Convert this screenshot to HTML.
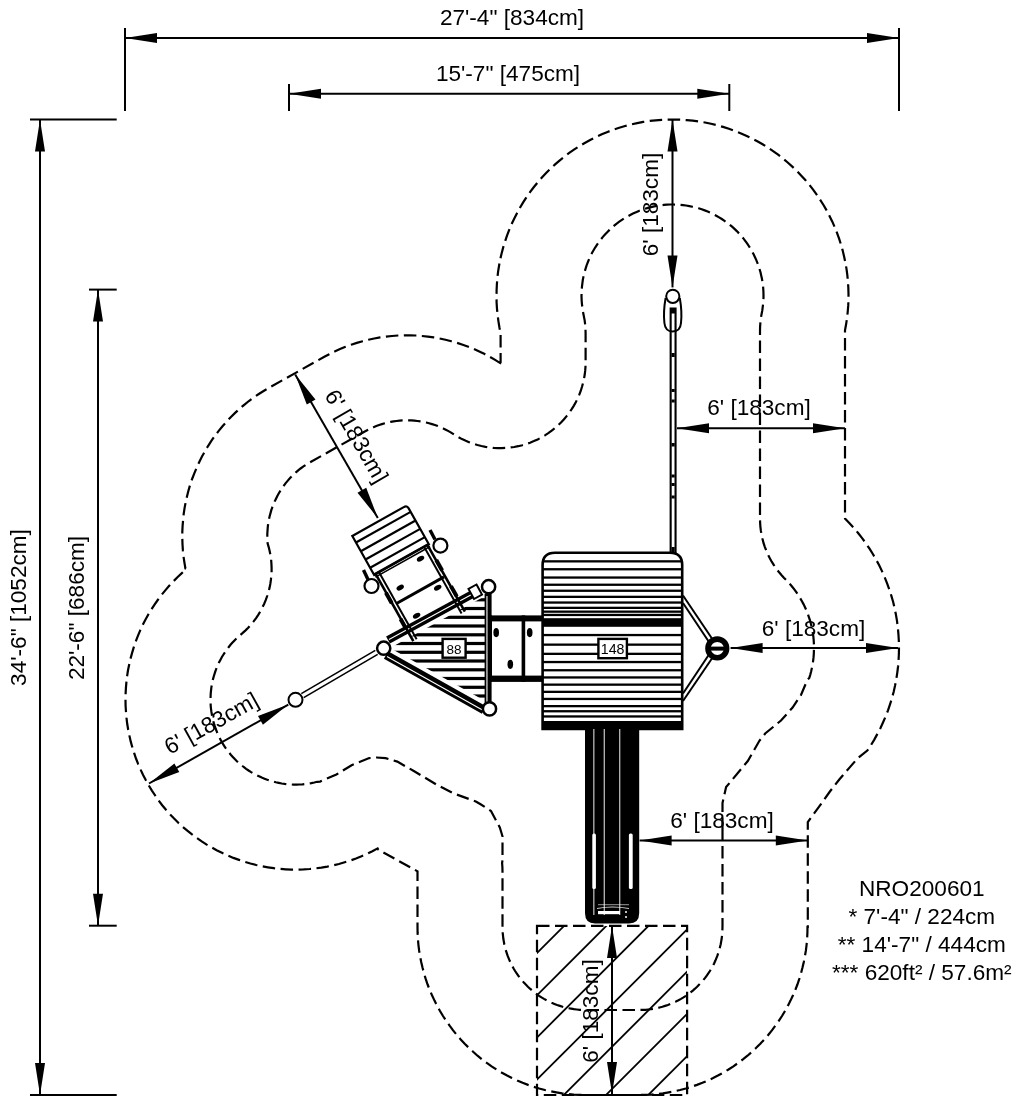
<!DOCTYPE html><html><head><meta charset="utf-8"><style>html,body{margin:0;padding:0;background:#fff;width:1024px;height:1105px;overflow:hidden}svg{filter:grayscale(1)}</style></head><body><svg xmlns="http://www.w3.org/2000/svg" width="1024" height="1105" viewBox="0 0 1024 1105" style="position:absolute;left:0;top:0">
<rect width="1024" height="1105" fill="#fff"/>
<g fill="#000" font-family="Liberation Sans, sans-serif">
<path d="M500.6,362.5 L500.2,363.1 L495.1,359.9 L490,356.9 L484.7,354.1 L479.3,351.5 L473.9,349 L468.3,346.7 L462.7,344.7 L457,342.8 L451.3,341.2 L445.5,339.7 L439.6,338.5 L433.7,337.4 L427.8,336.6 L421.9,336 L415.9,335.5 L409.9,335.3 L403.9,335.3 L398,335.5 L392,336 L386,336.6 L380.1,337.4 L374.2,338.5 L368.4,339.7 L362.6,341.2 L356.8,342.9 L351.2,344.7 L345.5,346.8 L340,349.1 L334.6,351.5 L329.2,354.2 L323.9,357 L269.2,387.7 L264,390.8 L258.8,394 L253.8,397.4 L248.9,401 L244.2,404.8 L239.5,408.8 L235.1,412.9 L230.7,417.2 L226.6,421.6 L222.5,426.2 L218.7,430.9 L215,435.7 L211.5,440.7 L208.2,445.8 L205.1,451 L202.1,456.3 L199.4,461.7 L196.8,467.3 L194.5,472.9 L192.3,478.5 L190.3,484.3 L188.6,490.1 L187.1,496 L185.7,502 L184.6,507.9 L183.7,513.9 L183.1,520 L182.6,526 L182.3,532.1 L182.3,538.2 L182.5,544.3 L182.9,550.4 L183.5,556.4 L184.4,562.4 L185.4,568.4 L186.6,569 L182.1,572.9 L177.7,577 L173.5,581.2 L169.4,585.6 L165.5,590.1 L161.7,594.7 L158.1,599.5 L154.7,604.4 L151.4,609.4 L148.3,614.5 L145.4,619.7 L142.7,625 L140.2,630.4 L137.9,635.9 L135.7,641.5 L133.8,647.2 L132.1,652.9 L130.5,658.6 L129.2,664.5 L128,670.3 L127.1,676.2 L126.4,682.1 L125.9,688.1 L125.6,694.1 L125.5,700 L125.6,706 L126,712 L126.5,717.9 L127.2,723.8 L128.2,729.7 L129.4,735.6 L130.7,741.4 L132.3,747.2 L134.1,752.9 L136,758.5 L138.2,764.1 L140.6,769.6 L143.1,774.9 L145.9,780.3 L148.8,785.5 L151.9,790.6 L155.2,795.5 L158.6,800.4 L162.2,805.2 L166,809.8 L170,814.3 L174.1,818.6 L178.3,822.8 L182.7,826.8 L187.3,830.7 L192,834.4 L196.8,838 L201.7,841.4 L206.7,844.6 L211.9,847.6 L217.1,850.4 L222.5,853.1 L227.9,855.6 L233.4,857.9 L239,859.9 L244.7,861.8 L250.4,863.5 L256.2,865 L262,866.3 L267.9,867.3 L273.8,868.2 L279.7,868.9 L285.7,869.3 L291.7,869.6 L297.6,869.6 L303.6,869.4 L309.6,869 L315.5,868.4 L321.4,867.6 L327.3,866.6 L333.1,865.4 L338.9,864 L344.7,862.3 L350.4,860.5 L356,858.5 L361.5,856.3 L367,853.8 L372.4,851.2 L377.6,848.4 L378.4,849.8 L417.5,871.3 L417.5,927 L417.6,932.9 L417.9,938.7 L418.4,944.6 L419.1,950.4 L420.1,956.2 L421.2,961.9 L422.5,967.6 L424,973.3 L425.7,978.9 L427.6,984.5 L429.7,989.9 L432,995.3 L434.5,1000.6 L437.2,1005.9 L440,1011 L443,1016 L446.2,1020.9 L449.6,1025.7 L453.1,1030.4 L456.8,1035 L460.7,1039.4 L464.7,1043.7 L468.8,1047.8 L473.1,1051.8 L477.5,1055.7 L482.1,1059.4 L486.8,1062.9 L491.6,1066.3 L496.5,1069.5 L501.5,1072.5 L506.6,1075.3 L511.9,1078 L517.2,1080.5 L522.6,1082.8 L528,1084.9 L533.6,1086.8 L539.2,1088.5 L544.9,1090 L550.6,1091.3 L556.3,1092.4 L562.1,1093.4 L567.9,1094.1 L573.8,1094.6 L579.6,1094.9 L585.5,1095 L639.5,1095 L645.4,1094.9 L651.2,1094.6 L657.1,1094.1 L662.9,1093.4 L668.7,1092.4 L674.4,1091.3 L680.1,1090 L685.8,1088.5 L691.4,1086.8 L697,1084.9 L702.4,1082.8 L707.8,1080.5 L713.1,1078 L718.4,1075.3 L723.5,1072.5 L728.5,1069.5 L733.4,1066.3 L738.2,1062.9 L742.9,1059.4 L747.5,1055.7 L751.9,1051.8 L756.2,1047.8 L760.3,1043.7 L764.3,1039.4 L768.2,1035 L771.9,1030.4 L775.4,1025.7 L778.8,1020.9 L782,1016 L785,1011 L787.8,1005.9 L790.5,1000.6 L793,995.3 L795.3,989.9 L797.4,984.5 L799.3,978.9 L801,973.3 L802.5,967.6 L803.8,961.9 L804.9,956.2 L805.9,950.4 L806.6,944.6 L807.1,938.7 L807.4,932.9 L807.5,927 L807.8,927 L807.8,822 L819.1,806.7 L829.9,791.5 L839.5,779.3 L849.5,767.6 L857.5,758.5 L867.3,750.6 L870.9,745.2 L874.3,739.6 L877.4,733.9 L880.4,728.2 L883.1,722.3 L885.7,716.3 L888,710.3 L890.1,704.2 L892,698 L893.7,691.7 L895.1,685.4 L896.3,679 L897.3,672.6 L898.1,666.2 L898.6,659.7 L898.9,653.2 L899,646.7 L898.8,640.2 L898.4,633.8 L897.8,627.3 L897,620.9 L895.9,614.5 L894.6,608.1 L893.1,601.8 L891.3,595.6 L889.3,589.4 L887.1,583.3 L884.7,577.3 L882.1,571.4 L879.3,565.5 L876.2,559.8 L873,554.2 L869.5,548.7 L865.9,543.3 L862.1,538.1 L858.1,533 L853.9,528 L849.5,523.2 L845,518.6 L845,518.6 L845,330.4 L846.1,324.3 L847,318.2 L847.7,312 L848.2,305.9 L848.5,299.7 L848.5,293.5 L848.3,287.3 L847.9,281.1 L847.3,274.9 L846.5,268.8 L845.4,262.7 L844.1,256.6 L842.7,250.6 L841,244.6 L839.1,238.7 L837,232.9 L834.7,227.1 L832.2,221.4 L829.5,215.9 L826.6,210.4 L823.5,205 L820.2,199.8 L816.7,194.6 L813.1,189.6 L809.3,184.7 L805.3,180 L801.1,175.4 L796.8,170.9 L792.3,166.6 L787.7,162.5 L783,158.5 L778.1,154.7 L773.1,151.1 L767.9,147.6 L762.6,144.3 L757.3,141.3 L751.8,138.4 L746.2,135.7 L740.5,133.2 L734.8,130.9 L728.9,128.8 L723,126.9 L717.1,125.2 L711,123.8 L705,122.5 L698.8,121.5 L692.7,120.7 L686.5,120.1 L680.3,119.7 L674.1,119.5 L667.9,119.6 L661.8,119.8 L655.6,120.3 L649.4,121 L643.3,121.9 L637.2,123.1 L631.1,124.4 L625.1,126 L619.2,127.8 L613.3,129.7 L607.5,131.9 L601.8,134.3 L596.2,136.9 L590.6,139.7 L585.2,142.7 L579.9,145.8 L574.7,149.2 L569.6,152.7 L564.6,156.5 L559.8,160.3 L555.1,164.4 L550.5,168.6 L546.1,173 L541.9,177.5 L537.8,182.2 L533.9,187 L530.2,191.9 L526.6,197 L523.3,202.2 L520.1,207.5 L517.1,212.9 L514.3,218.5 L511.6,224.1 L509.2,229.8 L507,235.6 L505,241.5 L503.2,247.4 L501.6,253.4 L500.2,259.4 L499.1,265.5 L498.1,271.6 L497.4,277.8 L496.9,284 L496.6,290.2 L496.5,296.4 L496.6,302.6 L497,308.8 L497.6,314.9 L498.4,321.1 L499.4,327.2 L500.6,333.3 L500.6,333.3 L500.6,362.5Z" fill="none" stroke="#000" stroke-width="2.2" stroke-dasharray="12.5 5.5"/>
<path d="M722.5,830 L722.5,803 L726.1,787.1 L747.8,761 L759.4,740.8 L765.2,733.5 L781,720.5 L792.6,707.5 L801,695 L807.3,680 L809.3,677.9 L810.3,674.6 L811.2,671.3 L811.9,667.9 L812.6,664.5 L813.1,661.1 L813.5,657.7 L813.8,654.2 L813.9,650.8 L814,647.3 L813.9,643.9 L813.7,640.4 L813.4,637 L812.9,633.6 L812.3,630.1 L811.6,626.8 L810.8,623.4 L809.9,620.1 L808.8,616.8 L807.7,613.5 L806.4,610.3 L805,607.2 L803.5,604.1 L801.8,601 L800.1,598 L798.3,595.1 L796.3,592.2 L794.3,589.4 L792.2,586.7 L789.9,584.1 L787.6,581.5 L784.1,578 L781.4,575 L778.7,571.8 L776.2,568.6 L773.9,565.2 L771.7,561.7 L769.7,558.1 L767.9,554.4 L766.3,550.6 L764.8,546.8 L763.5,542.9 L762.5,538.9 L761.6,534.9 L760.9,530.9 L760.4,526.8 L760.1,522.7 L760,518.6 L760,330.4 L760.1,326.6 L760.4,322.7 L760.8,318.8 L761.4,315 L762.3,310.4 L762.7,307.2 L763.1,304 L763.3,300.9 L763.5,297.7 L763.5,294.4 L763.4,291.2 L763.2,288 L762.9,284.9 L762.4,281.7 L761.9,278.5 L761.2,275.4 L760.5,272.3 L759.6,269.2 L758.6,266.1 L757.5,263.1 L756.3,260.1 L755,257.2 L753.6,254.3 L752.1,251.5 L750.5,248.7 L748.8,246 L747.1,243.3 L745.2,240.8 L743.2,238.2 L741.1,235.8 L739,233.4 L736.8,231.1 L734.5,228.9 L732.1,226.7 L729.6,224.7 L727.1,222.7 L724.5,220.8 L721.8,219 L719.1,217.4 L716.3,215.8 L713.5,214.3 L710.6,212.9 L707.7,211.6 L704.7,210.4 L701.7,209.3 L698.6,208.3 L695.5,207.5 L692.4,206.7 L689.3,206.1 L686.1,205.5 L682.9,205.1 L679.8,204.8 L676.6,204.6 L673.4,204.5 L670.1,204.5 L666.9,204.7 L663.8,204.9 L660.6,205.3 L657.4,205.8 L654.2,206.4 L651.1,207.1 L648,207.9 L644.9,208.8 L641.9,209.8 L638.9,210.9 L636,212.2 L633,213.5 L630.2,215 L627.4,216.5 L624.6,218.1 L621.9,219.9 L619.3,221.7 L616.7,223.6 L614.2,225.6 L611.8,227.7 L609.5,229.9 L607.2,232.2 L605,234.5 L602.9,236.9 L600.9,239.4 L598.9,242 L597.1,244.6 L595.3,247.3 L593.7,250 L592.1,252.8 L590.7,255.7 L589.3,258.6 L588.1,261.5 L586.9,264.5 L585.9,267.6 L585,270.6 L584.2,273.7 L583.4,276.9 L582.8,280 L582.4,283.2 L582,286.3 L581.7,289.5 L581.6,292.7 L581.5,295.9 L581.6,299.2 L581.8,302.4 L582.1,305.5 L582.5,308.7 L583,311.9 L583.9,316.5 L584.7,320.6 L585.2,324.8 L585.5,329 L585.6,333.3 L585.6,362.5 L585.5,366.6 L585.2,370.7 L584.7,374.8 L584,378.8 L583.1,382.8 L582,386.8 L580.8,390.7 L579.3,394.6 L577.7,398.3 L575.9,402 L573.9,405.6 L571.7,409.1 L571.3,409.7 L568.9,413.1 L566.4,416.4 L563.8,419.5 L561,422.6 L558,425.4 L554.9,428.2 L551.7,430.7 L548.3,433.2 L544.9,435.4 L541.3,437.5 L537.7,439.4 L533.9,441.1 L530.1,442.7 L526.2,444 L522.3,445.2 L518.2,446.2 L514.2,447 L510.1,447.5 L506,447.9 L501.9,448.1 L497.8,448.1 L493.6,447.9 L489.5,447.4 L485.5,446.8 L481.4,446 L477.4,445 L473.5,443.8 L469.6,442.4 L465.8,440.8 L462,439.1 L458.4,437.1 L454.9,435 L451.1,432.6 L448.5,431.1 L445.8,429.7 L443.2,428.4 L440.4,427.2 L437.7,426 L434.9,425 L432,424.1 L429.1,423.2 L426.2,422.5 L423.3,421.9 L420.4,421.4 L417.4,421 L414.4,420.6 L411.4,420.4 L408.5,420.3 L405.5,420.3 L402.5,420.4 L399.5,420.6 L396.5,421 L393.6,421.4 L390.6,421.9 L387.7,422.5 L384.8,423.3 L381.9,424.1 L379.1,425 L376.3,426.1 L373.5,427.2 L370.8,428.4 L368.1,429.7 L364.8,431.5 L311.5,461.5 L308.1,463.4 L305.6,465 L303.1,466.7 L300.6,468.5 L298.2,470.4 L295.9,472.4 L293.7,474.5 L291.5,476.6 L289.4,478.8 L287.4,481.1 L285.5,483.4 L283.7,485.9 L281.9,488.4 L280.3,490.9 L278.7,493.5 L277.2,496.2 L275.9,498.9 L274.6,501.6 L273.4,504.4 L272.3,507.3 L271.3,510.2 L270.5,513.1 L269.7,516 L269,519 L268.5,522 L268,525 L267.7,528 L267.5,531 L267.3,534.1 L267.3,537.1 L267.4,540.1 L267.6,543.2 L267.6,543.3 L268.7,547.1 L269.7,551.2 L270.5,555.2 L271.1,559.3 L271.4,563.4 L271.6,567.6 L271.6,571.7 L271.3,575.8 L270.9,579.9 L270.3,584 L269.5,588.1 L268.4,592.1 L267.2,596 L265.8,599.9 L264.2,603.7 L262.4,607.5 L260.5,611.1 L258.4,614.6 L256.1,618.1 L253.6,621.4 L251,624.6 L248.2,627.7 L245.3,630.6 L242.2,633.4 L238.8,636.3 L236.6,638.3 L234.5,640.4 L232.5,642.6 L230.5,644.8 L228.6,647.2 L226.8,649.5 L225.1,652 L223.5,654.5 L221.9,657 L220.5,659.7 L219.1,662.3 L217.9,665 L216.7,667.8 L215.6,670.6 L214.7,673.4 L213.8,676.2 L213,679.1 L212.3,682 L211.8,685 L211.3,687.9 L211,690.9 L210.7,693.8 L210.6,696.8 L210.5,699.8 L210.6,702.8 L210.7,705.8 L211,708.8 L211.4,711.7 L211.9,714.7 L212.4,717.6 L213.1,720.5 L213.9,723.4 L214.8,726.2 L215.8,729 L216.9,731.8 L218,734.6 L219.3,737.3 L220.7,739.9 L222.1,742.5 L223.7,745.1 L225.3,747.6 L227.1,750 L228.9,752.4 L230.8,754.7 L232.8,756.9 L234.8,759.1 L236.9,761.2 L239.1,763.2 L241.4,765.1 L243.7,767 L246.1,768.8 L248.6,770.5 L251.1,772.1 L253.7,773.6 L256.3,775 L259,776.3 L261.7,777.6 L264.5,778.7 L267.3,779.8 L270.1,780.7 L273,781.5 L275.8,782.3 L278.8,782.9 L281.7,783.5 L284.7,783.9 L287.6,784.2 L290.6,784.4 L293.6,784.6 L296.6,784.6 L299.5,784.5 L302.5,784.3 L305.5,784 L308.5,783.6 L311.4,783.1 L314.3,782.5 L317.2,781.8 L320,781.6 L336.4,774.5 L351.6,765.2 L369.2,758.1 L376.3,757.5 L385.6,758.1 L397.3,761.6 L413.8,771 L437.2,785 L453,793.2 L475.8,801.5 L480.2,804 L491,811 L499.8,827.5 L502.5,836.3 L502.5,860 L502.1,863.1 L502.4,867.2 L502.5,871.3 L502.5,926.3 L502.6,929.9 L502.7,932.8 L503,935.7 L503.3,938.5 L503.8,941.4 L504.3,944.3 L505,947.1 L505.7,949.9 L506.6,952.6 L507.5,955.4 L508.6,958.1 L509.7,960.8 L510.9,963.4 L512.2,966 L513.6,968.5 L515.1,971 L516.7,973.4 L518.4,975.8 L520.1,978.1 L521.9,980.3 L523.8,982.5 L525.8,984.6 L527.9,986.7 L530,988.7 L532.2,990.6 L534.4,992.4 L536.7,994.1 L539.1,995.8 L541.5,997.4 L544,998.9 L546.5,1000.3 L549.1,1001.6 L551.7,1002.8 L554.4,1003.9 L557.1,1005 L559.9,1005.9 L562.6,1006.8 L565.4,1007.5 L568.2,1008.2 L571.1,1008.7 L574,1009.2 L576.8,1009.5 L579.7,1009.8 L582.6,1009.9 L586.2,1010 L638.8,1010 L642.4,1009.9 L645.3,1009.8 L648.2,1009.5 L651,1009.2 L653.9,1008.7 L656.8,1008.2 L659.6,1007.5 L662.4,1006.8 L665.1,1005.9 L667.9,1005 L670.6,1003.9 L673.3,1002.8 L675.9,1001.6 L678.5,1000.3 L681,998.9 L683.5,997.4 L685.9,995.8 L688.3,994.1 L690.6,992.4 L692.8,990.6 L695,988.7 L697.1,986.7 L699.2,984.6 L701.2,982.5 L703.1,980.3 L704.9,978.1 L706.6,975.8 L708.3,973.4 L709.9,971 L711.4,968.5 L712.8,966 L714.1,963.4 L715.3,960.8 L716.4,958.1 L717.5,955.4 L718.4,952.6 L719.3,949.9 L720,947.1 L720.7,944.3 L721.2,941.4 L721.7,938.5 L722,935.7 L722.3,932.8 L722.4,929.9 L722.5,926.1 L722.5,830Z" fill="none" stroke="#000" stroke-width="2.2" stroke-dasharray="12.5 5.5"/>
<rect x="669.6" y="307.5" width="7" height="246" fill="#000"/>
<rect x="671.7" y="313.5" width="2.8" height="239" fill="#fff"/>
<rect x="671.5" y="353" width="3.2" height="4" fill="#000"/>
<rect x="671.5" y="389" width="3.2" height="3" fill="#000"/>
<rect x="671.5" y="399.5" width="3.2" height="3" fill="#000"/>
<rect x="671.5" y="443" width="3.2" height="3.5" fill="#000"/>
<rect x="671.5" y="474.5" width="3.2" height="3" fill="#000"/>
<rect x="671.5" y="483" width="3.2" height="3" fill="#000"/>
<rect x="671.5" y="495.5" width="3.2" height="3" fill="#000"/>
<rect x="671.5" y="547" width="3.2" height="5" fill="#000"/>
<path d="M665.6,298 C664.2,306 663.6,316 664.4,323 C665,329 668.5,331.5 672.7,331.5 C677,331.5 680.5,329 681,323 C681.8,316 681.2,306 679.8,298" fill="none" stroke="#000" stroke-width="2"/>
<circle cx="672.8" cy="296.3" r="6.6" fill="#fff" stroke="#000" stroke-width="2"/>
<g stroke="#000" stroke-width="2"><line x1="683" y1="595.5" x2="715" y2="643"/><line x1="683" y1="603" x2="711" y2="645"/><line x1="683" y1="693.5" x2="711" y2="651.5"/><line x1="683" y1="701" x2="715" y2="654"/></g>
<circle cx="717.3" cy="648.4" r="9.3" fill="#fff" stroke="#000" stroke-width="5.6"/>
<rect x="709" y="646.6" width="16.6" height="4" fill="#000"/>
<path d="M542.6,729 L542.6,565 Q542.6,552.8 555,552.8 L670,552.8 Q682.2,552.8 682.2,565 L682.2,729 Z" fill="#fff" stroke="#000" stroke-width="2.6"/>
<rect x="542.6" y="560.2" width="139.6" height="2.3" fill="#000"/>
<rect x="542.6" y="568.1" width="139.6" height="2.3" fill="#000"/>
<rect x="542.6" y="576.4" width="139.6" height="2.3" fill="#000"/>
<rect x="542.6" y="583.6" width="139.6" height="2.3" fill="#000"/>
<rect x="542.6" y="589.6" width="139.6" height="2.3" fill="#000"/>
<rect x="542.6" y="595.7" width="139.6" height="2.3" fill="#000"/>
<rect x="542.6" y="601.4" width="139.6" height="2.3" fill="#000"/>
<rect x="542.6" y="606.7" width="139.6" height="2.3" fill="#000"/>
<rect x="542.6" y="610.5" width="139.6" height="2.3" fill="#000"/>
<rect x="542.6" y="613.8" width="139.6" height="2.3" fill="#000"/>
<rect x="542.6" y="633.9" width="139.6" height="2.3" fill="#000"/>
<rect x="542.6" y="643.5" width="139.6" height="2.3" fill="#000"/>
<rect x="542.6" y="652.7" width="139.6" height="2.3" fill="#000"/>
<rect x="542.6" y="660.9" width="139.6" height="2.3" fill="#000"/>
<rect x="542.6" y="669.1" width="139.6" height="2.3" fill="#000"/>
<rect x="542.6" y="676.3" width="139.6" height="2.3" fill="#000"/>
<rect x="542.6" y="683.5" width="139.6" height="2.3" fill="#000"/>
<rect x="542.6" y="690.7" width="139.6" height="2.3" fill="#000"/>
<rect x="542.6" y="697.8" width="139.6" height="2.3" fill="#000"/>
<rect x="542.6" y="705" width="139.6" height="2.3" fill="#000"/>
<rect x="542.6" y="710.1" width="139.6" height="2.3" fill="#000"/>
<rect x="542.6" y="715.3" width="139.6" height="2.3" fill="#000"/>
<rect x="542.6" y="618.2" width="139.6" height="8.6" fill="#000"/>
<rect x="542.6" y="721" width="139.6" height="8" fill="#000"/>
<rect x="598.4" y="638.9" width="28.5" height="19.3" fill="#fff" stroke="#000" stroke-width="2.4"/>
<text x="612.6" y="654.4" font-size="14.2" text-anchor="middle">148</text>
<path d="M585,728 L639.2,728 L639.2,913 Q639.2,923.5 629,923.5 L595,923.5 Q585,923.5 585,913 Z" fill="#000"/>
<rect x="593.3" y="729" width="1.1" height="186" fill="#fff" opacity="0.85"/>
<rect x="603.7" y="729" width="1.1" height="186" fill="#fff" opacity="0.85"/>
<rect x="619.2" y="729" width="1.1" height="186" fill="#fff" opacity="0.85"/>
<rect x="592.3" y="833.5" width="3.6" height="55.5" rx="1.5" fill="#fff"/>
<rect x="628.9" y="833.5" width="3.8" height="55.5" rx="1.5" fill="#fff"/>
<rect x="598" y="911" width="22" height="3.2" fill="#fff"/>
<rect x="598" y="904.2" width="31" height="1" fill="#fff" opacity="0.6"/>
<path d="M597,908.5 Q612,905.5 629,908.5" fill="none" stroke="#fff" stroke-width="1.2" opacity="0.8"/>
<circle cx="626" cy="912" r="1" fill="#fff"/><circle cx="626" cy="917" r="1" fill="#fff"/>
<rect x="489" y="615.4" width="54" height="6" fill="#000"/>
<rect x="489" y="675.6" width="54" height="6.3" fill="#000"/>
<rect x="489" y="615.4" width="3" height="66.5" fill="#000"/>
<rect x="521.6" y="615.4" width="3.6" height="66.5" fill="#000"/>
<ellipse cx="496.2" cy="632.6" rx="2.8" ry="4.6" fill="#000"/>
<ellipse cx="529.7" cy="632.6" rx="2.8" ry="4.6" fill="#000"/>
<ellipse cx="510.3" cy="664.3" rx="2.8" ry="4.6" fill="#000"/>
<defs><clipPath id="tri"><polygon points="390,648 487,595 487,702"/></clipPath></defs>
<g clip-path="url(#tri)">
<rect x="380" y="598.2" width="110" height="3.2" fill="#000"/>
<rect x="380" y="606.9" width="110" height="3.2" fill="#000"/>
<rect x="380" y="615.7" width="110" height="3.2" fill="#000"/>
<rect x="380" y="624.4" width="110" height="3.2" fill="#000"/>
<rect x="380" y="633.2" width="110" height="3.2" fill="#000"/>
<rect x="380" y="641.9" width="110" height="3.2" fill="#000"/>
<rect x="380" y="650.7" width="110" height="3.2" fill="#000"/>
<rect x="380" y="659.4" width="110" height="3.2" fill="#000"/>
<rect x="380" y="668.2" width="110" height="3.2" fill="#000"/>
<rect x="380" y="676.9" width="110" height="3.2" fill="#000"/>
<rect x="380" y="685.7" width="110" height="3.2" fill="#000"/>
<rect x="380" y="694.4" width="110" height="3.2" fill="#000"/>
<rect x="380" y="703.2" width="110" height="3.2" fill="#000"/>
</g>
<rect x="484.6" y="594" width="7" height="112" fill="#000"/><rect x="486.4" y="596" width="1.1" height="108" fill="#fff"/>
<line x1="388" y1="640" x2="480" y2="590" stroke="#000" stroke-width="8"/><line x1="389" y1="639.5" x2="479" y2="590.5" stroke="#fff" stroke-width="1.1"/>
<polygon points="476.5,584.5 482,594.5 474,599 468.5,589" fill="#fff" stroke="#000" stroke-width="2"/>
<line x1="386" y1="655" x2="484" y2="710" stroke="#000" stroke-width="8.5"/><line x1="387" y1="656.5" x2="482" y2="709.8" stroke="#fff" stroke-width="1.1"/>
<text x="453.9" y="653.6" font-size="13.5" text-anchor="middle" fill="#000"></text>
<rect x="442.6" y="638.9" width="23" height="18.8" fill="#fff" stroke="#000" stroke-width="2.4"/>
<text x="453.9" y="653.6" font-size="13.5" text-anchor="middle">88</text>
<circle cx="488.6" cy="586.7" r="6.6" fill="#fff" stroke="#000" stroke-width="2.5"/>
<circle cx="489.5" cy="708.9" r="6.6" fill="#fff" stroke="#000" stroke-width="2.5"/>
<circle cx="383.7" cy="648.2" r="6.6" fill="#fff" stroke="#000" stroke-width="2.5"/>
<line x1="375.3" y1="650.4" x2="301.3" y2="693.6" stroke="#000" stroke-width="1.6"/><line x1="377.7" y1="654.4" x2="303.7" y2="697.6" stroke="#000" stroke-width="1.6"/>
<circle cx="295.5" cy="699.8" r="7" fill="#fff" stroke="#000" stroke-width="2"/>
<g transform="translate(352.3,536) rotate(-29.3)">
<path d="M0,0 L59,0 Q62.7,0 62.7,3.5 L62.7,44.7 L0,44.7 Z" fill="#fff" stroke="#000" stroke-width="2.2"/>
<line x1="0" y1="7.5" x2="62.7" y2="7.5" stroke="#000" stroke-width="2.2"/>
<line x1="0" y1="17.5" x2="62.7" y2="17.5" stroke="#000" stroke-width="2.2"/>
<line x1="0" y1="27" x2="62.7" y2="27" stroke="#000" stroke-width="2.2"/>
<line x1="0" y1="36.5" x2="62.7" y2="36.5" stroke="#000" stroke-width="2.2"/>
<line x1="0" y1="44.2" x2="62.7" y2="44.2" stroke="#000" stroke-width="2.2"/><line x1="0" y1="47.2" x2="62.7" y2="47.2" stroke="#000" stroke-width="1.5"/>
<line x1="1.8" y1="44.7" x2="1.8" y2="121.5" stroke="#000" stroke-width="2.6"/><line x1="5.6" y1="44.7" x2="5.6" y2="121.5" stroke="#000" stroke-width="2"/>
<line x1="61.2" y1="44.7" x2="61.2" y2="121" stroke="#000" stroke-width="2.6"/><line x1="57.4" y1="44.7" x2="57.4" y2="121" stroke="#000" stroke-width="2"/>
<rect x="-0.5" y="66" width="4" height="12" fill="#000"/><rect x="-0.5" y="96" width="4" height="10" fill="#000"/><rect x="59.5" y="62" width="4" height="12" fill="#000"/><rect x="59.5" y="92" width="4" height="12" fill="#000"/>
<line x1="5" y1="80.5" x2="60" y2="80.5" stroke="#000" stroke-width="3"/>
<ellipse cx="48.4" cy="53.2" rx="4" ry="2.4" fill="#000"/><ellipse cx="16.5" cy="68.5" rx="4" ry="2.4" fill="#000"/><ellipse cx="49.2" cy="86.9" rx="4" ry="2.4" fill="#000"/><ellipse cx="17.1" cy="101" rx="4" ry="2.4" fill="#000"/>
</g>
<circle cx="371.5" cy="586" r="7" fill="#fff" stroke="#000" stroke-width="2.2"/><line x1="363.5" y1="570" x2="368" y2="579.5" stroke="#000" stroke-width="3.4"/>
<circle cx="440.4" cy="545.6" r="7" fill="#fff" stroke="#000" stroke-width="2.2"/><line x1="430" y1="530" x2="435" y2="539.5" stroke="#000" stroke-width="3.4"/>
<defs><clipPath id="hr"><rect x="537" y="925.9" width="150.1" height="169.1"/></clipPath></defs>
<g clip-path="url(#hr)" stroke="#000" stroke-width="1.8">
<line x1="290" y1="1200" x2="690" y2="800"/>
<line x1="332.2" y1="1200" x2="732.2" y2="800"/>
<line x1="374.4" y1="1200" x2="774.4" y2="800"/>
<line x1="416.6" y1="1200" x2="816.6" y2="800"/>
<line x1="458.8" y1="1200" x2="858.8" y2="800"/>
<line x1="501" y1="1200" x2="901" y2="800"/>
<line x1="543.2" y1="1200" x2="943.2" y2="800"/>
</g>
<rect x="537" y="925.9" width="150.1" height="169.1" fill="none" stroke="#000" stroke-width="2.2" stroke-dasharray="12.5 5.5"/>
<g stroke="#000" stroke-width="2">
<line x1="125" y1="28" x2="125" y2="111"/><line x1="899" y1="28" x2="899" y2="111"/>
<line x1="289" y1="84" x2="289" y2="111"/><line x1="729.3" y1="84" x2="729.3" y2="111"/>
<line x1="30" y1="119.4" x2="116.7" y2="119.4"/><line x1="30" y1="1095" x2="116.7" y2="1095"/>
<line x1="89" y1="289.6" x2="116.7" y2="289.6"/><line x1="89" y1="925.7" x2="116.7" y2="925.7"/>
</g>
<line x1="125" y1="38" x2="899" y2="38" stroke="#000" stroke-width="2"/><polygon points="125,38 157,33 157,43"/><polygon points="899,38 867,43 867,33"/>
<line x1="289" y1="93.7" x2="729.3" y2="93.7" stroke="#000" stroke-width="2"/><polygon points="289,93.7 321,88.7 321,98.7"/><polygon points="729.3,93.7 697.3,98.7 697.3,88.7"/>
<line x1="40" y1="119.4" x2="40" y2="1095" stroke="#000" stroke-width="2"/><polygon points="40,119.4 45,151.4 35,151.4"/><polygon points="40,1095 35,1063 45,1063"/>
<line x1="98" y1="289.6" x2="98" y2="925.7" stroke="#000" stroke-width="2"/><polygon points="98,289.6 103,321.6 93,321.6"/><polygon points="98,925.7 93,893.7 103,893.7"/>
<text x="512" y="25.2" font-size="22.6" text-anchor="middle" >27'-4" [834cm]</text>
<text x="508" y="80.5" font-size="22.6" text-anchor="middle" >15'-7" [475cm]</text>
<text transform="translate(26.3,607.5) rotate(-90)" x="0" y="0" font-size="22.6" text-anchor="middle" >34'-6" [1052cm]</text>
<text transform="translate(84,608) rotate(-90)" x="0" y="0" font-size="22.6" text-anchor="middle" >22'-6" [686cm]</text>
<line x1="672.5" y1="119.5" x2="672.5" y2="287.4" stroke="#000" stroke-width="2"/><polygon points="672.5,119.5 677.5,151.5 667.5,151.5"/><polygon points="672.5,287.4 667.5,255.4 677.5,255.4"/>
<text transform="translate(657.5,204.5) rotate(-90)" x="0" y="0" font-size="22.6" text-anchor="middle" >6' [183cm]</text>
<line x1="677" y1="428.3" x2="845" y2="428.3" stroke="#000" stroke-width="2"/><polygon points="677,428.3 709,423.3 709,433.3"/><polygon points="845,428.3 813,433.3 813,423.3"/>
<text x="759" y="414.5" font-size="22.6" text-anchor="middle" >6' [183cm]</text>
<line x1="730.6" y1="648" x2="898" y2="648" stroke="#000" stroke-width="2"/><polygon points="730.6,648 762.6,643 762.6,653"/><polygon points="898,648 866,653 866,643"/>
<text x="813.5" y="635.6" font-size="22.6" text-anchor="middle" >6' [183cm]</text>
<line x1="639.6" y1="840.4" x2="807.8" y2="840.4" stroke="#000" stroke-width="2"/><polygon points="639.6,840.4 671.6,835.4 671.6,845.4"/><polygon points="807.8,840.4 775.8,845.4 775.8,835.4"/>
<text x="722" y="828.4" font-size="22.6" text-anchor="middle" >6' [183cm]</text>
<line x1="612" y1="926" x2="612" y2="1094" stroke="#000" stroke-width="2"/><polygon points="612,926 617,958 607,958"/><polygon points="612,1094 607,1062 617,1062"/>
<text transform="translate(598,1011) rotate(-90)" x="0" y="0" font-size="22.6" text-anchor="middle" >6' [183cm]</text>
<line x1="295.2" y1="374.4" x2="377.8" y2="518" stroke="#000" stroke-width="2"/><polygon points="295.2,374.4 315.5,399.6 306.8,404.6"/><polygon points="377.8,518 357.5,492.8 366.2,487.8"/>
<text transform="translate(350,440) rotate(60)" x="0" y="0" font-size="22.6" text-anchor="middle" >6' [183cm]</text>
<line x1="288.3" y1="704.6" x2="149" y2="783.5" stroke="#000" stroke-width="2"/><polygon points="288.3,704.6 262.9,724.7 258,716"/><polygon points="149,783.5 174.4,763.4 179.3,772.1"/>
<text transform="translate(215,730) rotate(-29)" x="0" y="0" font-size="22.6" text-anchor="middle" >6' [183cm]</text>
<text x="921.8" y="895.9" font-size="22.6" text-anchor="middle" >NRO200601</text>
<text x="921.8" y="923.8" font-size="22.6" text-anchor="middle" >* 7'-4" / 224cm</text>
<text x="921.8" y="951.7" font-size="22.6" text-anchor="middle" >** 14'-7" / 444cm</text>
<text x="921.8" y="979.6" font-size="22.6" text-anchor="middle" >*** 620ft² / 57.6m²</text>
</g></svg></body></html>
